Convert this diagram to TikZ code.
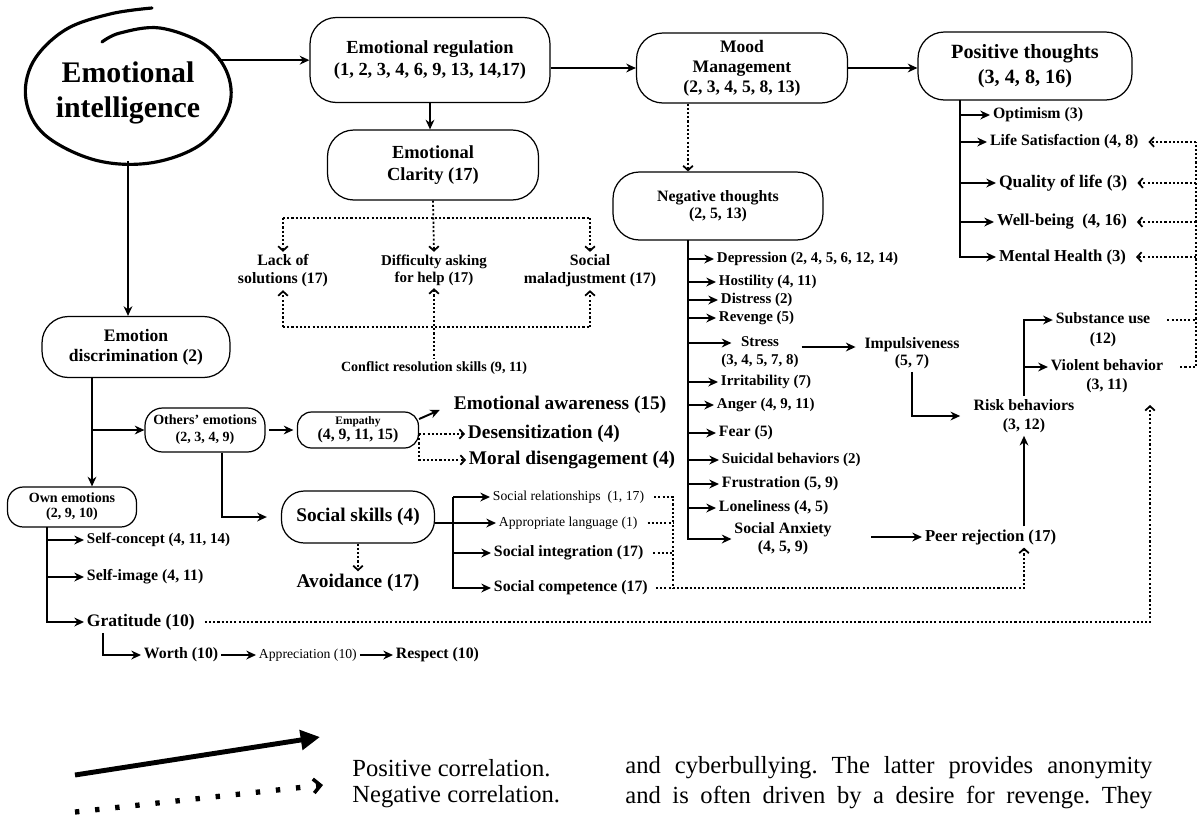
\documentclass[tikz,border=0pt]{standalone}
\usepackage{fontspec}
\setmainfont{Liberation Serif}
\usetikzlibrary{arrows.meta,positioning,calc,shapes.geometric}
\newcommand{\fsz}[2]{\fontsize{#1}{#2}\selectfont}
\frenchspacing
\tikzset{
  blob/.style={draw, line width=0.7pt, rounded corners=15pt, inner sep=0pt, align=center, font=\bfseries},
  item/.style={inner sep=1.5pt, align=center, font=\bfseries},
  conn/.style={-{Stealth[length=5.5pt,width=5pt]}, line width=1.1pt},
  dotln/.style={line width=1pt, dash pattern=on 1.2pt off 1.2pt},
  dotarr/.style={dotln, -{Straight Barb[length=2.5pt,width=5.5pt,line width=1pt]}},
  legtxt/.style={anchor=west, inner sep=0pt, font=\fsz{14}{16}},
}

\begin{document}
\begin{tikzpicture}[x=0.02cm, y=-0.02cm]
  \useasboundingbox (0,0) rectangle (1199,819);
  % main concept, hand drawn ring
  \node[ellipse, inner sep=0pt, minimum width=4.1cm, minimum height=2.72cm, align=center,
        font=\bfseries\fsz{17}{20}] (ei) at (128,93) {Emotional\\intelligence};
  \draw[line width=1.8pt, line cap=round] plot[smooth, tension=0.6] coordinates
    {(152,8) (110,14) (65,30) (33,62) (26,100) (45,135) (95,160) (150,163)
     (200,145) (228,110) (228,75) (205,45) (160,28) (120,33) (102,42)};

  % top row
  \node[blob, font=\bfseries\fsz{10.5}{12.5}, minimum width=4.8cm, minimum height=1.7cm] (er) at (430,60)
    {Emotional regulation\\(1, 2, 3, 4, 6, 9, 13, 14,17)};
  \node[blob, font=\bfseries\fsz{10}{11.4}, minimum width=4.22cm, minimum height=1.4cm] (mood) at (742,68)
    {Mood\\Management\\(2, 3, 4, 5, 8, 13)};
  \node[blob, font=\bfseries\fsz{11.5}{14}, minimum width=4.28cm, minimum height=1.36cm] (pos) at (1025,66)
    {Positive thoughts\\(3, 4, 8, 16)};
  \draw[conn] (ei.20) -- (ei.20 -| er.west);
  \draw[conn] (er.east |- mood.west) -- (mood.west);
  \draw[conn] (mood.east) -- (mood.east -| pos.west);

  % clarity branch
  \node[blob, font=\bfseries\fsz{10.5}{12.5}, minimum width=4.22cm, minimum height=1.4cm] (clar) at (433,165)
    {Emotional\\Clarity (17)};
  \draw[conn] (er.south) -- (er.south |- clar.north);
  \node[item, font=\bfseries\fsz{9}{10.2}] (lack) at (283,271) {Lack of\\solutions (17)};
  \node[item, font=\bfseries\fsz{8.5}{9.5}] (diff) at (434,270) {Difficulty asking\\for help (17)};
  \node[item, font=\bfseries\fsz{9}{10.2}] (malad) at (590,271) {Social\\maladjustment (17)};
  \node[item, font=\bfseries\fsz{8}{9}] (conf) at (434,368) {Conflict resolution skills (9, 11)};
  \coordinate (cbus) at (433,218);
  \coordinate (rbus) at (433,327);
  \draw[dotln] (lack.north |- cbus) -- (malad.north |- cbus);
  \draw[dotarr] (clar.south) -- (diff.north);
  \draw[dotarr] (lack.north |- cbus) -- (lack.north);
  \draw[dotarr] (malad.north |- cbus) -- (malad.north);
  \draw[dotln] (lack.south |- rbus) -- (malad.south |- rbus);
  \draw[dotarr] (lack.south |- rbus) -- (lack.south);
  \draw[dotarr] (malad.south |- rbus) -- (malad.south);
  \draw[dotarr, {Straight Barb[length=2.5pt,width=5.5pt,line width=1pt]}-] (diff.south) -- (conf.north);

  % negative thoughts
  \node[blob, font=\bfseries\fsz{9}{9.5}, minimum width=4.2cm, minimum height=1.36cm] (neg) at (718,206)
    {Negative thoughts\\(2, 5, 13)};
  \coordinate (ntr) at (688,240);
  \draw[dotarr] (mood.south -| ntr) -- (neg.north -| ntr);
  \node[item, anchor=west, font=\bfseries\fsz{8.5}{10}] (dep) at (714,259) {Depression (2, 4, 5, 6, 12, 14)};
  \node[item, anchor=west, font=\bfseries\fsz{8.5}{10}] (host) at (716,282) {Hostility (4, 11)};
  \node[item, anchor=west, font=\bfseries\fsz{8.5}{10}] (dist) at (718,300) {Distress (2)};
  \node[item, anchor=west, font=\bfseries\fsz{8.5}{10}] (rev) at (716,318) {Revenge (5)};
  \node[item, font=\bfseries\fsz{8.5}{10.2}] (stress) at (760,352) {Stress\\(3, 4, 5, 7, 8)};
  \node[item, anchor=west, font=\bfseries\fsz{8.5}{10}] (irr) at (718,382) {Irritability (7)};
  \node[item, anchor=west, font=\bfseries\fsz{8.5}{10}] (ang) at (714,405) {Anger (4, 9, 11)};
  \node[item, anchor=west, font=\bfseries\fsz{9}{10}] (fear) at (716,433) {Fear (5)};
  \node[item, anchor=west, font=\bfseries\fsz{8.5}{10}] (sui) at (719,460) {Suicidal behaviors (2)};
  \node[item, anchor=west, font=\bfseries\fsz{9}{10}] (fru) at (719,484) {Frustration (5, 9)};
  \node[item, anchor=west, font=\bfseries\fsz{9}{10}] (lone) at (716,508) {Loneliness (4, 5)};
  \node[item, font=\bfseries\fsz{9}{10.2}] (anx) at (783,539) {Social Anxiety\\(4, 5, 9)};
  \foreach \n in {dep,host,dist,rev,irr,ang,fear,sui,fru,lone}
    \draw[conn] (ntr |- \n.west) -- (\n.west);
  \draw[conn] ($(ntr |- stress)+(0,-9)$) -- ($(stress.west)+(13,-9)$);
  \draw[conn] (ntr) |- (anx.west);

  % impulsiveness and risk
  \node[item, font=\bfseries\fsz{9}{10}] (imp) at (912,353) {Impulsiveness\\(5, 7)};
  \node[item, font=\bfseries\fsz{9}{11}] (risk) at (1024,416) {Risk behaviors\\(3, 12)};
  \node[item, font=\bfseries\fsz{9}{11.4}] (subst) at (1103,330) {Substance use\\(12)};
  \node[item, font=\bfseries\fsz{9}{11}] (viol) at (1107,376) {Violent behavior\\(3, 11)};
  \node[item, anchor=west, font=\bfseries\fsz{9.5}{11}] (peer) at (922,537) {Peer rejection (17)};
  \draw[conn] ($(stress.east)+(0,-5)$) -- ($(imp.west)+(-6,-6)$);
  \draw[conn, shorten >=6pt] (imp.south) |- (risk.west);
  \draw[conn] (risk.north) |- ($(subst.west)+(0,-10)$);
  \draw[conn] ($(risk.north |- viol.west)+(0,-9)$) -- ($(viol.west)+(0,-9)$);
  \draw[conn, shorten <=21pt] (anx.east |- peer.west) -- (peer.west);
  \draw[conn] (peer.north -| risk) -- (risk.south);

  % positive thoughts
  \node[item, anchor=west, font=\bfseries\fsz{9}{10}] (opt) at (990,115) {Optimism (3)};
  \node[item, anchor=west, font=\bfseries\fsz{9}{10}] (life) at (987,142) {Life Satisfaction (4, 8)};
  \node[item, anchor=west, font=\bfseries\fsz{10}{11}] (qual) at (996,183) {Quality of life (3)};
  \node[item, anchor=west, font=\bfseries\fsz{9.5}{11}] (well) at (994,222) {Well-being\ \ (4, 16)};
  \node[item, anchor=west, font=\bfseries\fsz{9.5}{11}] (ment) at (996,257) {Mental Health (3)};
  \coordinate (ptr) at (960,100);
  \foreach \n in {opt,life,qual,well}
    \draw[conn] (ptr |- \n.west) -- (\n.west);
  \draw[conn] (ptr) |- (ment.west);
  \coordinate (fb) at (1196,142);
  \draw[dotln, shorten <=8pt] ($(viol.east)+(0,-9)$) -| (fb);
  \draw[dotln, shorten <=8pt] ($(subst.east)+(0,-10)$) -- ($(subst.east -| fb)+(0,-10)$);
  \foreach \n in {life,qual,well,ment}
    \draw[dotarr, shorten >=4pt] (fb |- \n.east) -- (\n.east);

  % emotion discrimination
  \node[blob, font=\bfseries\fsz{10}{11.4}, minimum width=3.76cm, minimum height=1.22cm] (disc) at (136,347)
    {Emotion\\discrimination (2)};
  \draw[conn] (ei.south) -- (ei.south |- disc.north);
  \node[blob, font=\bfseries\fsz{8}{9.7}, rounded corners=10pt, minimum width=2.4cm, minimum height=0.88cm] (others) at (205,430)
    {Others’ emotions\\(2, 3, 4, 9)};
  \node[blob, font=\bfseries\fsz{8}{8.5}, rounded corners=9pt, minimum width=2.58cm, minimum height=0.8cm] (own) at (72,507)
    {Own emotions\\(2, 9, 10)};
  \coordinate (dtr) at (92,378);
  \draw[conn] (dtr) -- (dtr |- own.north);
  \draw[conn] (dtr |- others.west) -- (others.west);

  % empathy
  \node[blob, font=\bfseries\fsz{9}{8.5}, rounded corners=8pt, minimum width=2.42cm, minimum height=0.72cm] (emp) at (358,430)
    {{\fsz{6.5}{7}Empathy}\\(4, 9, 11, 15)};
  \node[item, anchor=west, font=\bfseries\fsz{11}{13}] (ea) at (451,405) {Emotional awareness (15)};
  \node[item, anchor=west, font=\bfseries\fsz{11}{13}] (des) at (465,434) {Desensitization (4)};
  \node[item, anchor=west, font=\bfseries\fsz{11}{13}] (moral) at (466,460) {Moral disengagement (4)};
  \draw[conn, shorten <=2pt, shorten >=2pt] (others.east) -- (emp.west);
  \draw[conn, shorten >=7pt] ($(emp.east)+(0,-11)$) -- (ea.west);
  \draw[dotarr] (emp.east |- des.west) -- (des.west);
  \draw[dotarr] (emp.east |- des.west) |- (moral.west);

  % social skills
  \node[blob, font=\bfseries\fsz{11}{13}, rounded corners=13pt, minimum width=3.06cm, minimum height=1.04cm] (soc) at (358,517)
    {Social skills (4)};
  \node[item, font=\bfseries\fsz{11}{13}] (avoid) at (358,583) {Avoidance (17)};
  \draw[conn, shorten >=8pt] ($(others.south)+(17,0)$) |- (soc.west);
  \draw[dotarr] (soc.south) -- (avoid.north);
  \node[item, anchor=west, font=\fsz{7.8}{9}] (rel) at (490,497) {Social relationships\ \ (1, 17)};
  \node[item, anchor=west, font=\fsz{7.8}{9}] (lang) at (496,523) {Appropriate language (1)};
  \node[item, anchor=west, font=\bfseries\fsz{9}{10}] (integ) at (491,553) {Social integration (17)};
  \node[item, anchor=west, font=\bfseries\fsz{9}{10}] (comp) at (491,588) {Social competence (17)};
  \coordinate (str) at (453,497);
  \draw[conn] (soc.east |- lang.west) -- (lang.west);
  \draw[conn] (str) -- (rel.west);
  \draw[conn] (str |- integ.west) -- (integ.west);
  \draw[conn] (str) |- (comp.west);
  \coordinate (sbus) at (673,497);
  \draw[dotln, shorten <=4pt] (rel.east) -- (sbus) -- (sbus |- comp.east);
  \draw[dotln, shorten <=4pt] (lang.east) -- (lang.east -| sbus);
  \draw[dotln, shorten <=4pt] (integ.east) -- (integ.east -| sbus);
  \draw[dotarr, shorten <=3pt] (comp.east) -| (peer.south -| risk);

  % own emotions
  \node[item, anchor=west, font=\bfseries\fsz{8.5}{10}] (sc) at (84,540) {Self-concept (4, 11, 14)};
  \node[item, anchor=west, font=\bfseries\fsz{9}{10}] (si) at (84,577) {Self-image (4, 11)};
  \node[item, anchor=west, font=\bfseries\fsz{10}{11}] (grat) at (84,622) {Gratitude (10)};
  \node[item, anchor=west, font=\bfseries\fsz{9}{10}] (worth) at (141,655) {Worth (10)};
  \node[item, anchor=west, font=\fsz{7.8}{9}] (appr) at (256,655) {Appreciation (10)};
  \node[item, anchor=west, font=\bfseries\fsz{9}{10}] (resp) at (393,655) {Respect (10)};
  \coordinate (otr) at (47,527);
  \draw[conn] (otr |- sc.west) -- (sc.west);
  \draw[conn] (otr |- si.west) -- (si.west);
  \draw[conn] (otr) |- (grat.west);
  \draw[conn] ($(grat.south west)+(19,0)$) |- (worth.west);
  \draw[conn] (worth.east) -- (appr.west);
  \draw[conn] (appr.east) -- (resp.west);
  \coordinate (gtip) at (1150,405);
  \draw[dotarr, shorten <=4pt] (grat.east) -| (gtip);

  % legend
  \coordinate (lp0) at (75,775);
  \coordinate (lp1) at (320,737);
  \coordinate (ln0) at (75,812);
  \coordinate (ln1) at (323,785);
  \draw[line width=2.8pt, -{Triangle[length=11pt,width=11pt]}] (lp0) -- (lp1);
  \draw[line width=3pt, dash pattern=on 2.5pt off 9pt,
        -{Straight Barb[length=4pt,width=8pt,line width=2pt]}] (ln0) -- (ln1);
  \node[legtxt] (pc) at (352,768) {Positive correlation.};
  \node[legtxt] (nc) at (352,797) {Negative correlation.};
  \node[legtxt] (b1) at (625,768) {\makebox[300pt][s]{and cyberbullying. The latter provides anonymity}};
  \node[legtxt] (b2) at (625,797) {\makebox[300pt][s]{and is often driven by a desire for revenge. They}};
\end{tikzpicture}
\end{document}
